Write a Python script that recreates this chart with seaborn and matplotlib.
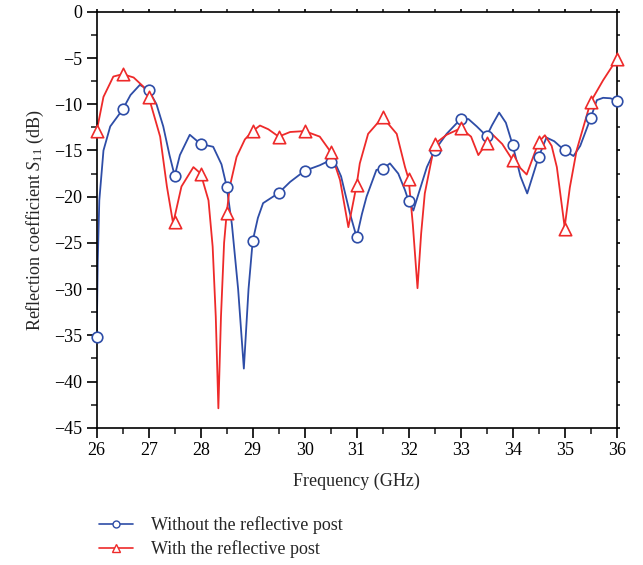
import numpy as np
import pandas as pd
import matplotlib
matplotlib.use('Agg')
import matplotlib.pyplot as plt
from matplotlib.ticker import MultipleLocator
from matplotlib.lines import Line2D
import seaborn as sns

# Curve points (GHz, dB)
freq_without = [26.0, 26.02, 26.05, 26.13, 26.26, 26.5, 26.65, 26.83, 27.0, 27.15, 27.28,
                27.4, 27.5, 27.6, 27.79, 28.0, 28.24, 28.4, 28.5, 28.6, 28.72,
                28.83, 28.92, 29.0, 29.1, 29.2, 29.5, 29.72, 30.0, 30.29, 30.55, 30.7,
                30.87, 31.0, 31.1, 31.19, 31.38, 31.5, 31.64, 31.8, 31.93, 32.0, 32.09,
                32.2, 32.35, 32.5, 32.73, 33.0, 33.15, 33.31, 33.5, 33.6, 33.74,
                33.87, 34.0, 34.15, 34.28, 34.4, 34.5, 34.65, 34.8, 35.0, 35.17,
                35.3, 35.5, 35.62, 35.74, 35.88, 36.0]
s11_without = [-35.2, -27.0, -20.4, -15.0, -12.4, -10.56, -9.0, -7.9, -8.47, -10.0, -12.4,
               -15.5, -17.75, -15.5, -13.3, -14.3, -14.6, -16.5, -18.9, -23.0, -30.0,
               -38.6, -30.0, -24.8, -22.3, -20.7, -19.6, -18.4, -17.2, -16.6, -15.9, -17.8,
               -21.8, -24.4, -21.9, -20.0, -17.1, -17.0, -16.4, -17.5, -19.3, -20.5, -21.5,
               -19.5, -16.8, -15.0, -13.2, -11.6, -11.6, -12.4, -13.45, -12.3, -10.9,
               -12.0, -14.4, -17.8, -19.65, -17.5, -15.7, -13.6, -14.0, -15.0, -15.6,
               -14.5, -11.5, -9.55, -9.3, -9.35, -9.6]

freq_with = [26.0, 26.13, 26.32, 26.5, 26.71, 26.9, 27.0, 27.22, 27.35, 27.47,
             27.63, 27.86, 28.0, 28.15, 28.23, 28.29, 28.34, 28.39, 28.45, 28.5,
             28.56, 28.69, 28.85, 29.0, 29.14, 29.3, 29.5, 29.72, 30.0, 30.29,
             30.5, 30.68, 30.84, 31.0, 31.06, 31.22, 31.5, 31.77, 31.93, 32.0,
             32.08, 32.17, 32.24, 32.31, 32.5, 32.73, 33.0, 33.2, 33.34, 33.5,
             33.6, 33.8, 34.0, 34.27, 34.5, 34.62, 34.75, 34.85, 35.0, 35.1,
             35.23, 35.5, 35.74, 36.0]
s11_with = [-12.9, -9.2, -7.0, -6.74, -7.1, -8.1, -9.2, -13.5, -18.9, -22.9,
            -18.9, -16.8, -17.5, -20.4, -25.4, -33.0, -42.9, -33.0, -25.0, -21.8,
            -18.9, -15.7, -13.8, -12.9, -12.3, -12.7, -13.5, -13.0, -12.9, -13.5,
            -15.15, -18.2, -23.3, -18.7, -16.4, -13.2, -11.4, -13.2, -16.8, -18.1,
            -23.0, -29.9, -24.0, -19.65, -14.3, -13.3, -12.6, -13.5, -15.5, -14.2,
            -13.2, -14.3, -16.05, -17.6, -14.1, -13.35, -14.5, -16.8, -23.3, -19.0,
            -15.0, -9.74, -7.4, -5.15]

# Marker positions (every 0.5 GHz)
freq_marks = [26.0, 26.5, 27.0, 27.5, 28.0, 28.5, 29.0, 29.5, 30.0, 30.5, 31.0,
              31.5, 32.0, 32.5, 33.0, 33.5, 34.0, 34.5, 35.0, 35.5, 36.0]
marks_without = [-35.2, -10.56, -8.47, -17.75, -14.3, -18.9, -24.8, -19.6, -17.2, -16.2, -24.4,
                 -17.0, -20.5, -15.0, -11.6, -13.45, -14.4, -15.7, -15.0, -11.5, -9.6]
marks_with = [-12.9, -6.74, -9.2, -22.7, -17.5, -21.8, -12.9, -13.5, -12.9, -15.15, -18.7,
              -11.4, -18.1, -14.3, -12.6, -14.2, -16.05, -14.1, -23.5, -9.74, -5.15]

labels = ['Without the reflective post', 'With the reflective post']
colors = ['#2E4DA7', '#EE2A2A']

sns.set_style('ticks')
plt.rcParams['font.family'] = ['Liberation Serif', 'DejaVu Serif']
plt.rcParams['mathtext.fontset'] = 'custom'
plt.rcParams['mathtext.it'] = 'Liberation Serif:italic'
plt.rcParams['mathtext.rm'] = 'Liberation Serif'

fig = plt.figure(figsize=(6.43, 5.65), dpi=100)
ax = fig.add_axes([0.1504, 0.243, 0.8086, 0.736])

sns.lineplot(x=freq_without, y=s11_without, ax=ax, color=colors[0], lw=1.3, sort=False)
sns.lineplot(x=freq_with, y=s11_with, ax=ax, color=colors[1], lw=1.3, sort=False)
sns.scatterplot(x=freq_marks, y=marks_without, ax=ax, marker='o', s=58,
                facecolor='white', edgecolor=colors[0], linewidth=1.2, zorder=3, clip_on=False)
sns.scatterplot(x=freq_marks, y=marks_with, ax=ax, marker='^', s=80,
                facecolor='white', edgecolor=colors[1], linewidth=1.2, zorder=3, clip_on=False)

ax.set_xlim(26, 36)
ax.set_ylim(-45, 0)
ax.xaxis.set_major_locator(MultipleLocator(1))
ax.xaxis.set_minor_locator(MultipleLocator(0.5))
ax.yaxis.set_major_locator(MultipleLocator(5))
ax.yaxis.set_minor_locator(MultipleLocator(2.5))
ax.tick_params(which='major', direction='out', length=7, width=1.2, labelsize=13, colors='black')
ax.tick_params(which='minor', direction='out', length=4, width=1.2)
ax.tick_params(which='both', top=True, right=True)
ax.tick_params(which='both', axis='x', labeltop=False)
ax.set_yticklabels([f'{int(v)}'.replace('-', '\u2212') for v in ax.get_yticks()])
for side in ['top', 'bottom', 'left', 'right']:
    ax.spines[side].set_linewidth(1.2)
    ax.spines[side].set_color('black')

# top/right ticks are tiny marks
for t in ax.xaxis.get_major_ticks() + ax.xaxis.get_minor_ticks():
    t.tick2line.set_markersize(2)
for t in ax.yaxis.get_major_ticks() + ax.yaxis.get_minor_ticks():
    t.tick2line.set_markersize(2)

ax.set_xlabel('Frequency (GHz)', fontsize=13, labelpad=10)
ax.set_ylabel('Reflection coefficient $S_{11}$ (dB)', fontsize=13, labelpad=6)

handles = [Line2D([], [], color=colors[0], lw=1.2, marker='o', markersize=5,
                  markerfacecolor='white', markeredgecolor=colors[0]),
           Line2D([], [], color=colors[1], lw=1.2, marker='^', markersize=6,
                  markerfacecolor='white', markeredgecolor=colors[1])]
fig.legend(handles, labels, loc='upper left', bbox_to_anchor=(0.128, 0.115),
           frameon=False, fontsize=13, handlelength=1.9, handletextpad=1.0, labelspacing=0.35)

plt.savefig('out.png', dpi=100)
plt.close()
